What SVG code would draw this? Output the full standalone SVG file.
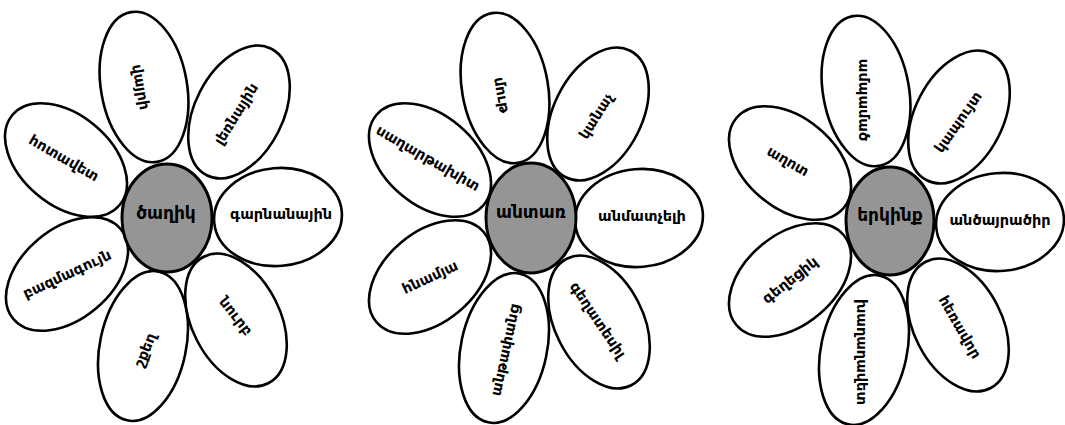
<svg xmlns="http://www.w3.org/2000/svg" width="1065" height="425" viewBox="0 0 1065 425">
<style>
.p{fill:#fff;stroke:#000;stroke-width:2.6}
.c{fill:#959595;stroke:#000;stroke-width:3}
.t{font-family:"DejaVu Sans","Noto Sans",sans-serif;font-weight:bold;font-size:14.5px;fill:#000;text-anchor:middle;dominant-baseline:central}
.ct{font-family:"DejaVu Sans","Noto Sans",sans-serif;font-weight:bold;font-size:17px;fill:#000;text-anchor:middle;dominant-baseline:central}
</style>
<rect width="1065" height="425" fill="#fff"/>
<g id="flower1">
 <g id="f1-ul"><ellipse class="p" cx="0" cy="0" rx="70" ry="45" transform="translate(66,160) rotate(40)"/><text class="t" transform="translate(64,158) rotate(30)">հոտավետ</text></g>
 <g id="f1-ll"><ellipse class="p" cx="0" cy="0" rx="70" ry="45" transform="translate(67,274) rotate(-40)"/><text class="t" transform="translate(67,274) rotate(-25)">բազմագույն</text></g>
 <g id="f1-b"><ellipse class="p" cx="0" cy="0" rx="43" ry="76" transform="translate(143,346) rotate(12)"/><text class="t" transform="translate(145,350) rotate(-68)">շքեղ</text></g>
 <g id="f1-lr"><ellipse class="p" cx="0" cy="0" rx="44" ry="71" transform="translate(236,320) rotate(-27)"/><text class="t" transform="translate(236,316) rotate(52)">նուրբ</text></g>
 <g id="f1-r"><ellipse class="p" cx="0" cy="0" rx="64" ry="49" transform="translate(278,217) rotate(-5)"/><text class="t" transform="translate(281,214)">գարնանային</text></g>
 <g id="f1-tr"><ellipse class="p" cx="0" cy="0" rx="44" ry="71" transform="translate(239,112) rotate(27)"/><text class="t" transform="translate(236,114) rotate(-58)">լեռնային</text></g>
 <g id="f1-t"><ellipse class="p" cx="0" cy="0" rx="43" ry="76" transform="translate(144,87) rotate(-10)"/><text class="t" transform="translate(141,87) rotate(80)">վայրի</text></g>
 <g id="f1-c"><ellipse class="c" cx="167" cy="218" rx="45" ry="54"/><text class="ct" x="166" y="213">ծաղիկ</text></g>
</g>
<g id="flower2">
 <g id="f2-ul"><ellipse class="p" cx="0" cy="0" rx="70" ry="45" transform="translate(430,160) rotate(40)"/><text class="t" transform="translate(428,158) rotate(30)">սաղարթախիտ</text></g>
 <g id="f2-ll"><ellipse class="p" cx="0" cy="0" rx="70" ry="45" transform="translate(430,277) rotate(-40)"/><text class="t" transform="translate(430,277) rotate(-25)">հնամյա</text></g>
 <g id="f2-b"><ellipse class="p" cx="0" cy="0" rx="43" ry="76" transform="translate(504,348) rotate(12)"/><text class="t" transform="translate(505,350) rotate(-78)">անթափանց</text></g>
 <g id="f2-lr"><ellipse class="p" cx="0" cy="0" rx="44" ry="71" transform="translate(599,322) rotate(-27)"/><text class="t" transform="translate(598,320) rotate(56)">գեղատեսիլ</text></g>
 <g id="f2-r"><ellipse class="p" cx="0" cy="0" rx="64" ry="49" transform="translate(639,218) rotate(-5)"/><text class="t" transform="translate(642,216)">անմատչելի</text></g>
 <g id="f2-tr"><ellipse class="p" cx="0" cy="0" rx="44" ry="71" transform="translate(598,114) rotate(27)"/><text class="t" transform="translate(596,116) rotate(-58)">կանաչ</text></g>
 <g id="f2-t"><ellipse class="p" cx="0" cy="0" rx="43" ry="76" transform="translate(505,88) rotate(-10)"/><text class="t" transform="translate(502,95) rotate(80)">մութ</text></g>
 <g id="f2-c"><ellipse class="c" cx="531" cy="218" rx="45" ry="55"/><text class="ct" x="531" y="212">անտառ</text></g>
</g>
<g id="flower3">
 <g id="f3-ul"><ellipse class="p" cx="0" cy="0" rx="70" ry="45" transform="translate(790,163) rotate(40)"/><text class="t" transform="translate(788,161) rotate(30)">աղոտ</text></g>
 <g id="f3-ll"><ellipse class="p" cx="0" cy="0" rx="70" ry="45" transform="translate(790,280) rotate(-40)"/><text class="t" transform="translate(790,280) rotate(-38)">գեղեցիկ</text></g>
 <g id="f3-b"><ellipse class="p" cx="0" cy="0" rx="43" ry="76" transform="translate(864,350) rotate(12)"/><text class="t" transform="translate(862,352) rotate(90)">խաղաղավետ</text></g>
 <g id="f3-lr"><ellipse class="p" cx="0" cy="0" rx="44" ry="71" transform="translate(958,325) rotate(-27)"/><text class="t" transform="translate(960,327) rotate(60)">հեռավոր</text></g>
 <g id="f3-r"><ellipse class="p" cx="0" cy="0" rx="64" ry="49" transform="translate(1000,222) rotate(-5)"/><text class="t" transform="translate(1000,220)">անծայրածիր</text></g>
 <g id="f3-tr"><ellipse class="p" cx="0" cy="0" rx="44" ry="71" transform="translate(959,117) rotate(27)"/><text class="t" transform="translate(958,122) rotate(-55)">կապույտ</text></g>
 <g id="f3-t"><ellipse class="p" cx="0" cy="0" rx="43" ry="76" transform="translate(866,91) rotate(-10)"/><text class="t" transform="translate(864,100) rotate(90)">ամպամած</text></g>
 <g id="f3-c"><ellipse class="c" cx="890" cy="221" rx="44" ry="54"/><text class="ct" x="890" y="215">երկինք</text></g>
</g>
</svg>
